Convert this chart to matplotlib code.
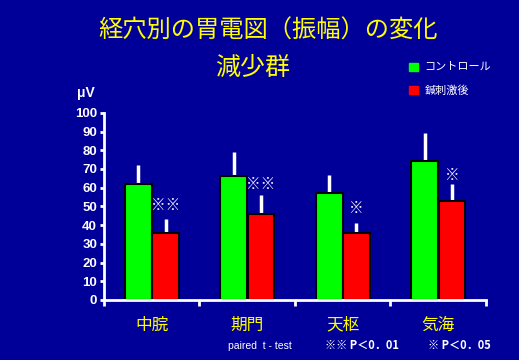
import numpy as np
import matplotlib
matplotlib.use("Agg")
import matplotlib.pyplot as plt

plt.rcParams['font.family'] = ['Noto Sans CJK JP', 'DejaVu Sans']

# data
points = ['中脘', '期門', '天枢', '気海']
control = [62, 66, 57, 74]
control_err = [10, 13, 10, 15]
after = [36, 46, 36, 53]
after_err = [7, 10, 5, 9]
marks = ['※※', '※※', '※', '※']
mark_y = [51, 62, 49, 67]

bg = '#000099'
fig = plt.figure(figsize=(5.19, 3.6), dpi=100, facecolor=bg)
ax = fig.add_axes([0.2004, 0.1667, 0.7356, 0.52], facecolor=bg)

x = np.arange(len(points))
w = 0.28
xg = x + 0.36
xr = x + 0.645
ax.bar(xg, control, w, color='#00ff00', edgecolor='black', linewidth=1.5, zorder=2)
ax.bar(xr, after, w, color='#ff0000', edgecolor='black', linewidth=1.5, zorder=2)
ax.vlines(xg, control, np.add(control, control_err), color='white', lw=2.5, zorder=1)
ax.vlines(xr, after, np.add(after, after_err), color='white', lw=2.5, zorder=1)

for xi, m, yv in zip(xr, marks, mark_y):
    ax.text(xi, yv, m, color='white', fontsize=10.5, ha='center', va='center',
            fontweight='bold')

ax.set_xlim(0, 4)
ax.set_ylim(0, 100)
ax.set_yticks(range(0, 101, 10))
ax.set_xticks(range(0, 5))
ax.set_xticklabels([])
ax.set_xticks(x + 0.5, minor=True)
ax.set_xticklabels(points, minor=True, color='yellow', fontsize=12)
ax.tick_params(axis='x', which='minor', length=0, pad=12)
ax.tick_params(axis='x', which='major', length=4, width=2, color='white', direction='out')
ax.tick_params(axis='y', length=3, width=2, color='white', labelcolor='white', pad=2)
for lab in ax.get_yticklabels():
    lab.set_family(['Liberation Sans', 'DejaVu Sans'])
    lab.set_fontweight('bold')
    lab.set_fontsize(9.5)
for s in ['top', 'right']:
    ax.spines[s].set_visible(False)
for s in ['left', 'bottom']:
    ax.spines[s].set_color('white')
    ax.spines[s].set_linewidth(2)

fig.text(0.516, 0.915, '経穴別の胃電図（振幅）の変化', color='yellow', fontsize=17.5,
         ha='center', va='center')
fig.text(0.486, 0.81, '減少群', color='yellow', fontsize=18, ha='center', va='center')
fig.text(0.165, 0.742, 'μV', color='white', fontsize=10, fontweight='bold',
         ha='center', va='center', family=['Liberation Sans', 'DejaVu Sans'])

# legend
fig.patches.append(plt.Rectangle((0.788, 0.802), 0.017, 0.024, color='#00ff00',
                                 transform=fig.transFigure, figure=fig))
fig.patches.append(plt.Rectangle((0.788, 0.738), 0.017, 0.024, color='#ff0000',
                                 transform=fig.transFigure, figure=fig))
fig.text(0.818, 0.814, 'コントロール', color='white', fontsize=8, va='center')
fig.text(0.818, 0.75, '鍼刺激後', color='white', fontsize=8, va='center')

fig.text(0.44, 0.04, 'paired  t - test', color='white', fontsize=7.5, va='center',
         family=['Liberation Sans', 'DejaVu Sans'])
fig.text(0.626, 0.04, '※※ P＜0．01', color='white', fontsize=8, va='center',
         fontweight='bold')
fig.text(0.825, 0.04, '※ P＜0．05', color='white', fontsize=8, va='center',
         fontweight='bold')

fig.savefig('out.png', dpi=100, facecolor=bg)
